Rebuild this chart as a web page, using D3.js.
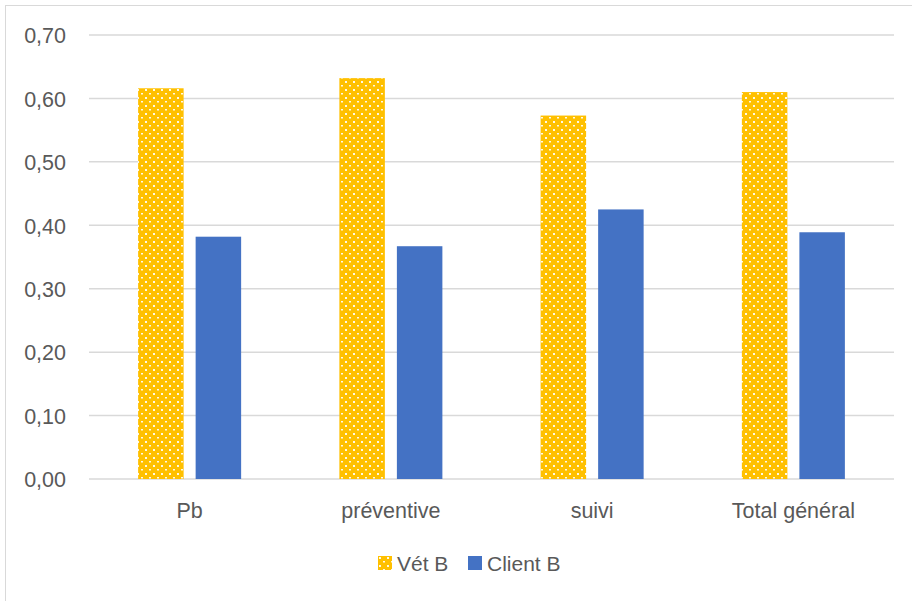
<!DOCTYPE html>
<html><head><meta charset="utf-8">
<script src="https://cdn.jsdelivr.net/npm/d3@7"></script>
<style>body{margin:0;background:#fff}svg{display:block}text{font-family:"Liberation Sans",Arial,sans-serif}</style>
</head><body><svg id="c" width="912" height="601"></svg>
<script>
const categories = ["Pb","préventive","suivi","Total général"];
const seriesNames = ["Vét B","Client B"];
const vetB = [0.616,0.632,0.573,0.610];
const clientB = [0.382,0.367,0.425,0.389];
const yTicks = [0,0.1,0.2,0.3,0.4,0.5,0.6,0.7];

const svg = d3.select("#c");
const defs = svg.append("defs");
const pat = defs.append("pattern").attr("id","dots").attr("patternUnits","userSpaceOnUse")
  .attr("width",8).attr("height",8);
pat.append("rect").attr("width",8).attr("height",8).attr("fill","#FFC000");
pat.append("rect").attr("x",1).attr("y",1).attr("width",2).attr("height",2).attr("fill","#fff").attr("opacity",0.9);
pat.append("rect").attr("x",5).attr("y",5).attr("width",2).attr("height",1.5).attr("fill","#fff").attr("opacity",0.9);

svg.append("rect").attr("x",5.5).attr("y",5.5).attr("width",1000).attr("height",1000)
  .attr("fill","none").attr("stroke","#d9d9d9").attr("stroke-width",1);

const x0 = d3.scaleBand().domain(categories).range([89,894]);
const x1 = d3.scaleBand().domain(seriesNames).range([0,x0.bandwidth()]).paddingInner(0.209).paddingOuter(0.854);
const y = d3.scaleLinear().domain([0,0.7]).range([479,35]);
const fmt = d => d3.format(".2f")(d).replace(".",",");

const grid = svg.append("g");
grid.selectAll("line").data(yTicks).join("line")
  .attr("x1",89).attr("x2",894).attr("y1",d=>y(d)).attr("y2",d=>y(d))
  .attr("stroke","#d9d9d9").attr("stroke-width",1.5);

const yAxis = d3.axisLeft(y).tickValues(yTicks).tickFormat(fmt).tickSize(0).tickPadding(0);
const ga = svg.append("g").attr("transform","translate(66,0)").call(yAxis);
ga.select(".domain").remove();
ga.selectAll("text").attr("fill","#595959").style("font-size","21.5px").attr("dy","0.36em");

const series = [vetB, clientB];
const fills = ["url(#dots)","#4472C4"];
seriesNames.forEach((s,i)=>{
  svg.append("g").selectAll("rect").data(categories).join("rect")
    .attr("x",c=>x0(c)+x1(s)).attr("width",x1.bandwidth())
    .attr("y",(c,j)=>y(series[i][j])).attr("height",(c,j)=>y(0)-y(series[i][j]))
    .attr("fill",fills[i]);
});

const xAxis = d3.axisBottom(x0).tickSize(0).tickPadding(0);
const gx = svg.append("g").attr("transform","translate(0,510)").call(xAxis);
gx.select(".domain").remove();
gx.selectAll("text").attr("fill","#595959").style("font-size","21.5px").attr("dy","0.36em").attr("y",0);

const leg = svg.append("g");
const legX = [378,468];
seriesNames.forEach((s,i)=>{
  const g = leg.append("g").attr("transform",`translate(${legX[i]},556)`);
  g.append("rect").attr("width",14).attr("height",14).attr("fill",fills[i]);
  g.append("text").attr("x",19).attr("y",7).attr("dy","0.36em").attr("fill","#595959").style("font-size","21px").text(s);
});
</script></body></html>
